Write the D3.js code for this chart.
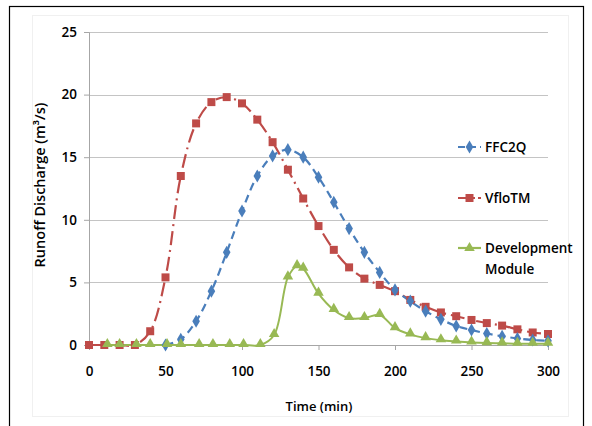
<!DOCTYPE html>
<html>
<head>
<meta charset="utf-8">
<script src="https://cdn.jsdelivr.net/npm/d3@7"></script>
<style>
  html, body { margin: 0; padding: 0; background: #fff; }
  svg { display: block; }
  text { font-family: "Open Sans", "Noto Sans", sans-serif; fill: #000; }
</style>
</head>
<body>
<script>
// Runoff hydrographs: discharge (m³/s) against time (min)
const yTicks = [0, 5, 10, 15, 20, 25];
const xTicks = [0, 50, 100, 150, 200, 250, 300];

const vfloTime = [0,10,20,30,40,50,60,70,80,90,100,110,120,130,140,150,160,170,180,190,200,210,220,230,240,250,260,270,280,290,300];
const vfloQ    = [0,0,0,0,1.1,5.4,13.5,17.7,19.4,19.8,19.3,18.0,16.2,14.0,11.7,9.5,7.6,6.2,5.3,4.8,4.3,3.6,3.05,2.6,2.3,2.0,1.75,1.55,1.25,1.0,0.88];

const ffcTime = [50,60,70,80,90,100,110,120,130,140,150,160,170,180,190,200,210,220,230,240,250,260,270,280,290,300];
const ffcQ    = [0,0.45,1.9,4.3,7.4,10.7,13.5,15.1,15.6,15.0,13.4,11.4,9.3,7.4,5.8,4.4,3.5,2.7,2.05,1.52,1.2,0.92,0.7,0.52,0.4,0.33];

const devTime = [12,20,31,40,51,60,72,81,92,101,112,121,130,136,140,150,160,170,180,190,200,210,220,230,240,250,260,270,280,290,300];
const devQ    = [0,0,0,0,0,0,0,0,0,0,0,0.8,5.4,6.3,6.1,4.1,2.8,2.15,2.15,2.4,1.35,0.85,0.55,0.38,0.28,0.2,0.15,0.13,0.1,0.1,0.1];

const seriesNames = ["FFC2Q", "VfloTM", ["Development", "Module"]];

const W = 592, H = 426;
const svg = d3.select("body").append("svg").attr("width", W).attr("height", H);

// outer frame
svg.append("rect").attr("x", 9.5).attr("y", 6.5).attr("width", 574).attr("height", 430)
  .attr("fill", "none").attr("stroke", "#000").attr("stroke-width", 1.2);
svg.append("rect").attr("x", 32.5).attr("y", 15.5).attr("width", 536).attr("height", 401)
  .attr("fill", "none").attr("stroke", "#f0f0f0").attr("stroke-width", 1);

const x = d3.scaleLinear().domain([0, 300]).range([89, 548]);
const y = d3.scaleLinear().domain([0, 25]).range([345, 32]);

// gridlines
svg.append("g").selectAll("line").data(yTicks.filter(d => d > 0)).join("line")
  .attr("x1", x(0)).attr("x2", x(300))
  .attr("y1", d => Math.round(y(d)) + 0.5).attr("y2", d => Math.round(y(d)) + 0.5)
  .attr("stroke", "#c4c4c4").attr("stroke-width", 1);

// y axis
const yAxis = svg.append("g").attr("transform", `translate(${x(0)},0)`)
  .call(d3.axisLeft(y).tickValues(yTicks).tickSize(5).tickPadding(7).tickFormat(d3.format("d")));
yAxis.select(".domain").attr("stroke", "#a6a6a6");
yAxis.selectAll(".tick line").attr("stroke", "#a6a6a6");
yAxis.selectAll(".tick text").attr("font-size", 13.5).attr("font-weight", 600)
  .attr("font-family", "'Open Sans', sans-serif");

// x axis
const xAxis = svg.append("g").attr("transform", `translate(0,${y(0)})`)
  .call(d3.axisBottom(x).tickValues(xTicks).tickSize(5).tickPadding(16).tickFormat(d3.format("d")));
xAxis.select(".domain").attr("stroke", "#a6a6a6");
xAxis.selectAll(".tick line").attr("stroke", "#a6a6a6");
xAxis.selectAll(".tick text").attr("font-size", 13.5).attr("font-weight", 600)
  .attr("font-family", "'Open Sans', sans-serif");

// axis titles
svg.append("text").attr("x", 319).attr("y", 411).attr("text-anchor", "middle")
  .attr("font-size", 13).attr("font-weight", 600).text("Time (min)");
svg.append("text").attr("transform", "translate(45,185) rotate(-90)").attr("text-anchor", "middle")
  .attr("font-size", 14.5).attr("font-weight", 600).text("Runoff Discharge (m³/s)");

const blue = "#4a7ebb", red = "#be4b48", green = "#98b954";

function draw(times, vals, color, dash, width) {
  const pts = times.map((t, i) => [t, vals[i]]);
  const line = d3.line().x(d => x(d[0])).y(d => y(d[1])).curve(d3.curveCatmullRom.alpha(0.5));
  svg.append("path").datum(pts).attr("d", line).attr("fill", "none")
    .attr("stroke", color).attr("stroke-width", width)
    .attr("stroke-dasharray", dash).attr("stroke-linecap", "butt");
  return pts;
}

const sq = d3.symbol().type(d3.symbolSquare).size(64);
const dm = d3.symbol().type(d3.symbolDiamond).size(50);
const tr = d3.symbol().type(d3.symbolTriangle).size(48);

// VfloTM
const vPts = draw(vfloTime, vfloQ, red, "14,5,2,5", 2.2);
// FFC2Q
const fPts = draw(ffcTime, ffcQ, blue, "8,5", 2.2);
// Development Module
const dPts = draw(devTime, devQ, green, null, 2);

svg.append("g").selectAll("path").data(vPts).join("path")
  .attr("transform", d => `translate(${x(d[0])},${y(d[1])})`).attr("d", sq).attr("fill", red);
svg.append("g").selectAll("path").data(fPts).join("path")
  .attr("transform", d => `translate(${x(d[0])},${y(d[1])})`).attr("d", dm).attr("fill", blue);
svg.append("g").selectAll("path").data(dPts).join("path")
  .attr("transform", d => `translate(${x(d[0])},${y(d[1]) - 1})`).attr("d", tr).attr("fill", green);

// legend
const legend = [
  { name: seriesNames[0], color: blue, dash: "7,4", sym: dm, yy: 147 },
  { name: seriesNames[1], color: red, dash: "12,3,2,3", sym: sq, yy: 198 },
  { name: seriesNames[2], color: green, dash: null, sym: tr, yy: 248 }
];
legend.forEach(l => {
  const g = svg.append("g");
  g.append("line").attr("x1", 458).attr("x2", 481).attr("y1", l.yy).attr("y2", l.yy)
    .attr("stroke", l.color).attr("stroke-width", 2.2).attr("stroke-dasharray", l.dash);
  g.append("path").attr("transform", `translate(469.5,${l.yy})`).attr("d", l.sym).attr("fill", l.color);
  const names = Array.isArray(l.name) ? l.name : [l.name];
  names.forEach((n, i) => {
    g.append("text").attr("x", 485).attr("y", l.yy + 5 + i * 21)
      .attr("font-size", 13.5).attr("font-weight", 600).text(n);
  });
});
</script>
</body>
</html>
